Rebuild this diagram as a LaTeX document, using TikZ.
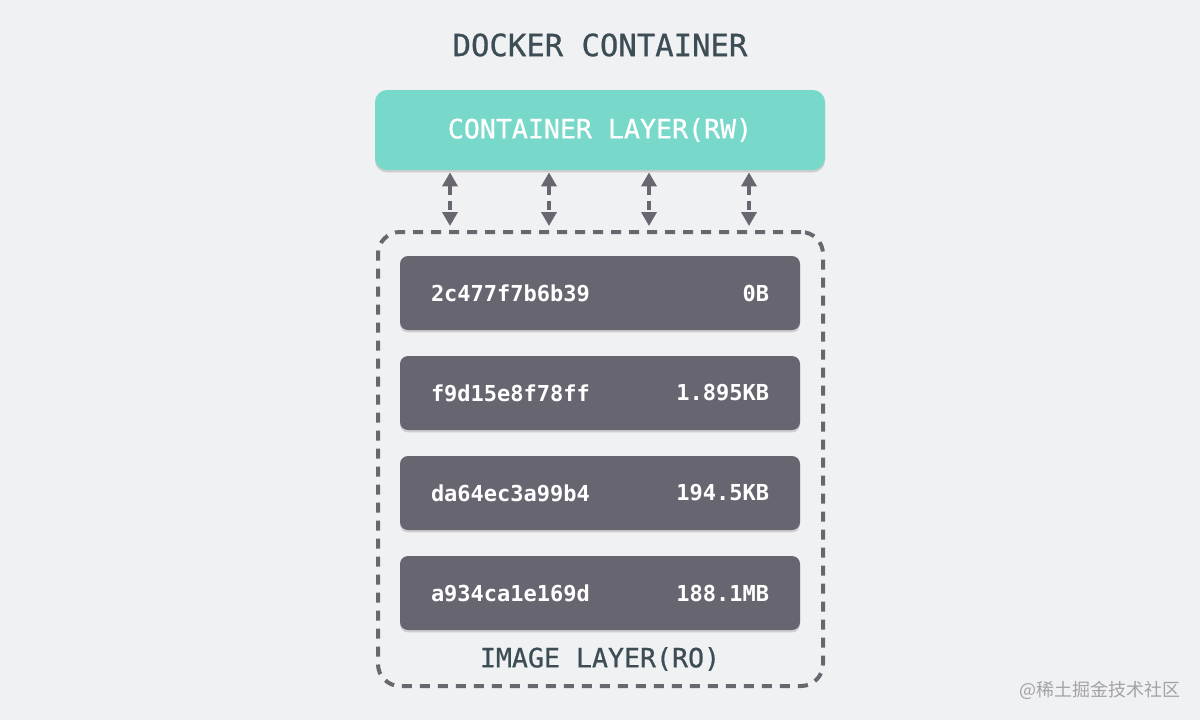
\documentclass[tikz,border=0pt]{standalone}
\usepackage{fontspec}
\setmonofont{DejaVu Sans Mono}
\newfontfamily\medmono{DejaVu Sans Mono}[UprightFeatures={FakeBold=0.7}]
\newfontfamily\cjk{Noto Sans CJK SC}
\usetikzlibrary{arrows.meta,shadows,calc}
\definecolor{bg}{HTML}{F0F1F3}
\definecolor{teal}{HTML}{78D8CA}
\definecolor{layer}{HTML}{67656F}
\definecolor{slate}{HTML}{3D4D55}
\definecolor{arrgray}{HTML}{68666F}
\definecolor{wm}{HTML}{A3A3A6}
\tikzset{
  shad/.style={drop shadow={shadow xshift=0pt,shadow yshift=-1.2pt,opacity=0.14,fill=black}},
  contbox/.style={shad,fill=teal,rounded corners=6pt,minimum width=225pt,minimum height=40pt,inner sep=0pt,
    text=white,font=\medmono\fontsize{13.3pt}{15pt}\selectfont},
  layerbox/.style={shad,fill=layer,rounded corners=4pt,minimum width=200pt,minimum height=37pt,inner sep=0pt},
  layertxt/.style={text=white,inner sep=0pt,font=\ttfamily\bfseries\fontsize{11pt}{13pt}\selectfont},
  frame/.style={draw=arrgray,line width=2pt,dash pattern=on 5pt off 4pt,rounded corners=11pt,
    minimum width=222.5pt,minimum height=227pt,inner sep=0pt},
  arr/.style={draw=arrgray,line width=2pt,dash pattern=on 4.5pt off 3pt,
    {Triangle[length=7pt,width=7.5pt]}-{Triangle[length=7pt,width=7.5pt]},shorten <=1pt,shorten >=2pt},
  title/.style={text=slate,inner sep=0pt,font=\medmono\fontsize{15.3pt}{18pt}\selectfont},
  sub/.style={text=slate,inner sep=0pt,font=\medmono\fontsize{13.3pt}{15pt}\selectfont},
}
\begin{document}
\begin{tikzpicture}[x=0.5pt,y=-0.5pt]
\fill[bg] (0,0) rectangle (1200,720);
\useasboundingbox (0,0) rectangle (1200,720);
\node[title] (t) at (600,45) {DOCKER CONTAINER};
\node[contbox] (cl) at (600,130) {CONTAINER LAYER(RW)};
\node[frame] (img) at (600.5,459) {};
\foreach \n/\y/\a/\b in {1/293/2c477f7b6b39/0B,2/393/f9d15e8f78ff/1.895KB,3/493/da64ec3a99b4/194.5KB,4/593/a934ca1e169d/188.1MB}{
  \node[layerbox] (l\n) at (600,\y) {};
  \node[layertxt,anchor=west] (l\n a) at ($(l\n.west)+(31,0)$) {\a};
  \node[layertxt,anchor=east] (l\n b) at ($(l\n.east)+(-31,0)$) {\b};
}
\node[sub] (il) at (600,659) {IMAGE LAYER(RO)};
\foreach \dx in {-150,-51,49,149}{
  \draw[arr] ($(cl.south)+(\dx,0)$) -- ($(img.north)+(\dx-0.5,0)$);
}
\node[text=wm,inner sep=0pt,anchor=east,font=\cjk\fontsize{9pt}{11pt}\selectfont] (w) at (1181,690) {@稀土掘金技术社区};
\end{tikzpicture}
\end{document}
